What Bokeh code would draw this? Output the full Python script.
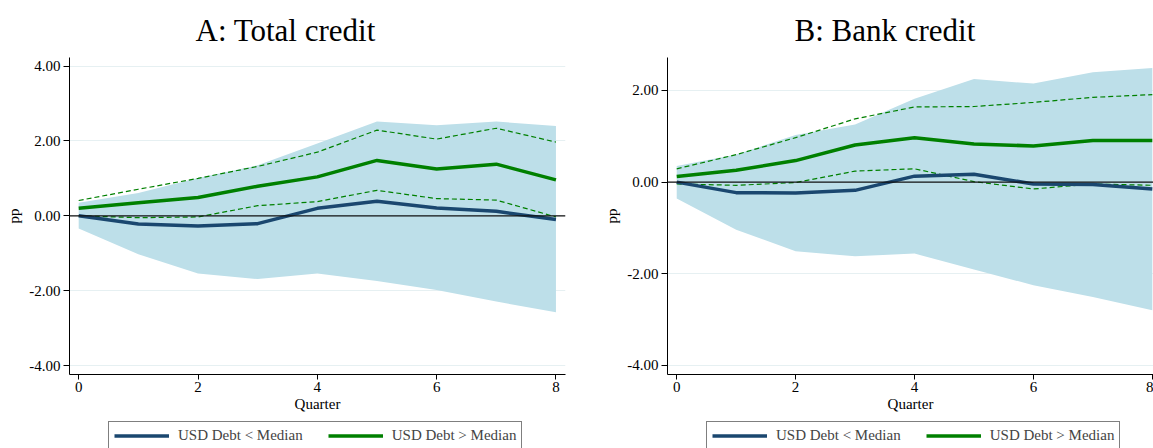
from bokeh.plotting import figure
from bokeh.layouts import row, column
from bokeh.models import Range1d, FixedTicker, PrintfTickFormatter, Span, Legend, LegendItem
from bokeh.embed import file_html
from bokeh.resources import INLINE

quarters = [0, 1, 2, 3, 4, 5, 6, 7, 8]

# Panel A: Total credit
a_below = [0.00, -0.22, -0.27, -0.21, 0.20, 0.39, 0.21, 0.12, -0.10]
a_below_lo = [-0.34, -1.03, -1.54, -1.69, -1.54, -1.74, -1.98, -2.29, -2.58]
a_below_hi = [0.35, 0.61, 1.01, 1.35, 1.93, 2.52, 2.42, 2.52, 2.40]
a_above = [0.20, 0.35, 0.49, 0.79, 1.04, 1.48, 1.25, 1.38, 0.96]
a_above_lo = [0.00, -0.05, -0.03, 0.27, 0.38, 0.68, 0.46, 0.42, -0.03]
a_above_hi = [0.41, 0.71, 1.00, 1.32, 1.70, 2.29, 2.05, 2.34, 1.97]

# Panel B: Bank credit
b_below = [0.00, -0.23, -0.24, -0.18, 0.13, 0.17, -0.04, -0.05, -0.15]
b_below_lo = [-0.36, -1.04, -1.51, -1.62, -1.56, -1.91, -2.25, -2.51, -2.80]
b_below_hi = [0.35, 0.60, 1.03, 1.26, 1.82, 2.25, 2.15, 2.40, 2.49]
b_above = [0.12, 0.26, 0.47, 0.81, 0.97, 0.83, 0.79, 0.91, 0.91]
b_above_lo = [-0.04, -0.07, -0.01, 0.24, 0.29, 0.01, -0.15, -0.04, -0.07]
b_above_hi = [0.29, 0.60, 0.97, 1.38, 1.64, 1.65, 1.74, 1.85, 1.91]

titles = ["A: Total credit", "B: Bank credit"]
a_yticks = [-4, -2, 0, 2, 4]
b_yticks = [-4, -2, 0, 2]
x_ticks = [0, 2, 4, 6, 8]
legend_labels = ["USD Debt < Median", "USD Debt > Median"]

FONT = "Liberation Serif"
BLUE = "#1a476f"
GREEN = "#008000"
BAND = "#bddfe9"
MAIN_H = 420
LEG_H = 448 - MAIN_H


def panel(title, title_offset, width, left, right, xr, yr, yticks,
          below, below_lo, below_hi, above, above_lo, above_hi):
    p = figure(width=width, height=MAIN_H, output_backend="svg", toolbar_location=None,
               x_range=Range1d(*xr), y_range=Range1d(*yr),
               min_border_left=left, min_border_right=right,
               min_border_top=57, min_border_bottom=MAIN_H - 374)
    p.title.text = title
    p.title.text_font = FONT
    p.title.text_font_size = "31px"
    p.title.text_font_style = "normal"
    p.title.text_color = "black"
    p.title.align = "left"
    p.title.offset = title_offset
    p.title.standoff = 19
    p.outline_line_color = None
    p.background_fill_color = "white"
    p.border_fill_color = "white"

    p.varea(x=quarters, y1=below_lo, y2=below_hi, fill_color=BAND, fill_alpha=1)
    p.line(quarters, above_hi, line_color=GREEN, line_width=1.2, line_dash="5 3")
    p.line(quarters, above_lo, line_color=GREEN, line_width=1.2, line_dash="5 3")
    p.add_layout(Span(location=0, dimension="width", line_color="#111111", line_width=1.3))
    p.line(quarters, below, line_color=BLUE, line_width=3.5)
    p.line(quarters, above, line_color=GREEN, line_width=3.5)

    p.xgrid.grid_line_color = None
    p.ygrid.grid_line_color = "#e6f0f2"
    p.ygrid.ticker = FixedTicker(ticks=yticks)

    for ax in (p.xaxis[0], p.yaxis[0]):
        ax.axis_line_color = "black"
        ax.axis_line_width = 1
        ax.major_tick_line_color = "black"
        ax.major_tick_in = 0
        ax.minor_tick_line_color = None
        ax.major_label_text_font = FONT
        ax.major_label_text_font_size = "15px"
        ax.major_label_text_color = "black"
        ax.axis_label_text_font = FONT
        ax.axis_label_text_font_size = "15px"
        ax.axis_label_text_font_style = "normal"
        ax.axis_label_text_color = "black"

    p.xaxis.ticker = FixedTicker(ticks=x_ticks)
    p.xaxis.axis_label = "Quarter"
    p.xaxis.major_tick_out = 5
    p.xaxis.major_label_standoff = 2
    p.xaxis.axis_label_standoff = 1

    p.yaxis.ticker = FixedTicker(ticks=yticks)
    p.yaxis.formatter = PrintfTickFormatter(format="%.2f")
    p.yaxis.axis_label = "pp"
    p.yaxis.major_tick_out = 6
    p.yaxis.major_label_standoff = 3
    p.yaxis.axis_label_standoff = 4

    # legend strip below the chart (its frame is aligned with the chart frame)
    lf = figure(width=width, height=LEG_H, output_backend="svg", toolbar_location=None,
                x_axis_type=None, y_axis_type=None,
                x_range=Range1d(100, 101), y_range=Range1d(100, 101),
                min_border=0, min_border_left=left, min_border_right=right,
                min_border_top=0, min_border_bottom=0)
    lf.outline_line_color = None
    lf.xgrid.grid_line_color = None
    lf.ygrid.grid_line_color = None
    lf.background_fill_color = "white"
    lf.border_fill_color = "white"
    kb = lf.line(quarters, below, line_color=BLUE, line_width=3.5)
    kg = lf.line(quarters, above, line_color=GREEN, line_width=3.5)
    legend = Legend(items=[LegendItem(label=legend_labels[0], renderers=[kb]),
                           LegendItem(label=legend_labels[1], renderers=[kg])],
                    orientation="horizontal", location=(39, LEG_H - 3 - 27),
                    padding=5, margin=0, spacing=25, glyph_width=55, glyph_height=17,
                    label_height=17, label_standoff=9,
                    label_text_font=FONT, label_text_font_size="15px",
                    border_line_color="black", border_line_width=1,
                    background_fill_color="white", background_fill_alpha=1)
    lf.add_layout(legend)
    return column(p, lf, spacing=0)


pa = panel(titles[0], 126, 580, 69, 15, (-0.154, 8.16), (-4.24, 4.23), a_yticks,
           a_below, a_below_lo, a_below_hi, a_above, a_above_lo, a_above_hi)
pb = panel(titles[1], 127, 573, 87, 0, (-0.155, 8.02), (-4.20, 2.72), b_yticks,
           b_below, b_below_lo, b_below_hi, b_above, b_above_lo, b_above_hi)

layout = row(pa, pb, spacing=0)
open("out.html", "w").write(file_html(layout, INLINE))
